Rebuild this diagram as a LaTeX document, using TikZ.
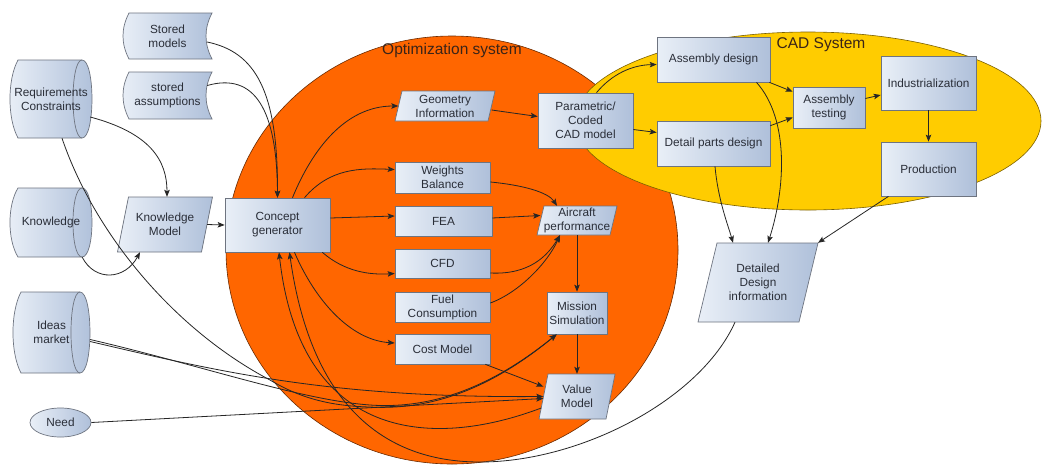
\documentclass[tikz,border=0pt]{standalone}
\usepackage{fontspec}
\setmainfont{Liberation Sans}
\usetikzlibrary{arrows.meta,shapes.geometric}

\definecolor{boxL}{HTML}{E9EFF7}
\definecolor{boxR}{HTML}{AFC0DA}
\definecolor{boxline}{HTML}{6E7480}
\definecolor{txt}{HTML}{2A2E38}
\definecolor{optfill}{HTML}{FF6600}
\definecolor{optline}{HTML}{6A2A00}
\definecolor{optext}{HTML}{3A2418}
\definecolor{cadfill}{HTML}{FFCC00}
\definecolor{cadline}{HTML}{7A6000}
\definecolor{wire}{HTML}{262626}

\newcommand\dgmfont{\fontsize{11.8}{14}\selectfont}
\newcommand\dgmtitle{\fontsize{15.5}{18}\selectfont}

\tikzset{
  shapefill/.style={draw=boxline, line width=0.7pt, left color=boxL, right color=boxR},
  box/.style={shapefill, inner sep=0pt, align=center, font=\dgmfont, text=txt},
  lbl/.style={inner sep=0pt, align=center, font=\dgmfont, text=txt},
  flow/.style={draw=wire, line width=0.8pt, -{Stealth[length=7pt,width=5.5pt,inset=1.5pt]}},
}

% parallelogram: name, cx, cy, edge width, height, slant, text
\newcommand\mkpara[7]{%
  \path[shapefill] ({#2-#4/2+#6/2},{#3-#5/2}) -- ({#2+#4/2+#6/2},{#3-#5/2})
    -- ({#2+#4/2-#6/2},{#3+#5/2}) -- ({#2-#4/2-#6/2},{#3+#5/2}) -- cycle;
  \node[lbl, minimum width=#4pt, minimum height=#5pt] (#1) at (#2,#3) {#7};}

% stored data: name, left, top, right, bottom, text
\newcommand\mkstored[6]{%
  \path[shapefill] ({#2+6},#3) -- (#4,#3)
    .. controls ({#4-8},{(2*#3+#5)/3}) and ({#4-8},{(#3+2*#5)/3}) .. (#4,#5)
    -- ({#2+6},#5)
    .. controls ({#2-2},{(#3+2*#5)/3}) and ({#2-2},{(2*#3+#5)/3}) .. ({#2+6},#3) -- cycle;
  \node[lbl, minimum width={#4-#2}, minimum height={#5-#3}] (#1) at ({(#2+#4)/2},{(#3+#5)/2}) {#6};}

% direct access storage: name, left, top, right, bottom, text
\newcommand\mkdisk[6]{%
  \path[shapefill] ({#2+8},#3) -- ({#4-10},#3)
    .. controls ({#4+3.3},#3) and ({#4+3.3},#5) .. ({#4-10},#5)
    -- ({#2+8},#5)
    .. controls ({#2-2.7},{(#3+3*#5)/4}) and ({#2-2.7},{(3*#3+#5)/4}) .. ({#2+8},#3) -- cycle;
  \draw[boxline, line width=0.7pt] ({#4-10},#3) .. controls ({#4-22},#3) and ({#4-22},#5) .. ({#4-10},#5);
  \node[lbl, minimum width={#4-#2}, minimum height={#5-#3}] (#1) at ({(#2+#4)/2},{(#3+#5)/2}) {#6};}

\begin{document}
\begin{tikzpicture}[x=1pt,y=-1pt]
\useasboundingbox (0,0) rectangle (1043,464);
\fill[white] (0,0) rectangle (1043,464);

% the two systems
\draw[fill=optfill, draw=optline, line width=0.6pt] (452,250) ellipse [x radius=226pt, y radius=214pt];
\draw[fill=cadfill, draw=cadline, line width=0.6pt] (808,121) ellipse [x radius=233pt, y radius=89pt];
\node[font=\dgmtitle, text=optext, inner sep=0pt] (opttitle) at (452,50) {Optimization system};
\node[font=\dgmtitle, text=optext, inner sep=0pt] (cadtitle) at (821,45) {CAD System};

% inputs on the left
\mkstored{sm}{123}{13}{212}{59}{Stored\\models}
\mkstored{sa}{123}{72}{212}{119}{stored\\assumptions}
\mkdisk{req}{10}{60}{92}{138}{Requirements\\Constraints}
\mkdisk{know}{10}{188}{92}{257}{Knowledge}
\mkdisk{ideas}{13}{292}{90}{373}{Ideas\\market}
\node[box, ellipse, minimum width=61pt, minimum height=29pt] (need) at (60.5,422.5) {Need};
\mkpara{km}{165}{224.5}{84}{55}{11}{Knowledge\\Model}
\node[box, minimum width=105pt, minimum height=54pt] (cg) at (277.5,225) {Concept\\generator};

% optimization system
\mkpara{geo}{445}{106}{93}{30}{7}{Geometry\\Information}
\node[box, minimum width=95pt, minimum height=31pt] (wb) at (442.5,177.5) {Weights\\Balance};
\node[box, minimum width=97pt, minimum height=30pt] (fea) at (443.5,221) {FEA};
\node[box, minimum width=95pt, minimum height=29pt] (cfd) at (442.5,263.5) {CFD};
\node[box, minimum width=95pt, minimum height=30pt] (fuel) at (442.5,307) {Fuel\\Consumption};
\node[box, minimum width=95pt, minimum height=30pt] (cost) at (442.5,349) {Cost Model};
\node[box, minimum width=95pt, minimum height=55pt] (par) at (585.5,120.5) {Parametric/\\Coded\\CAD model};
\mkpara{ap}{577}{220.5}{73}{29}{7}{Aircraft\\performance}
\node[box, minimum width=60pt, minimum height=42pt] (ms) at (577,313) {Mission\\Simulation};
\mkpara{vm}{577}{396.5}{67}{45}{9}{Value\\Model}

% CAD system
\node[box, minimum width=113pt, minimum height=45pt] (ad) at (713.5,59.5) {Assembly design};
\node[box, minimum width=113pt, minimum height=45pt] (dp) at (713.5,143.5) {Detail parts design};
\node[box, minimum width=72pt, minimum height=41pt] (at) at (829,107.5) {Assembly\\testing};
\node[box, minimum width=95pt, minimum height=54pt] (ind) at (928.5,83) {Industrialization};
\node[box, minimum width=95pt, minimum height=54pt] (prod) at (928.5,169) {Production};
\mkpara{ddi}{758}{282.5}{101}{79}{19}{Detailed\\Design\\information}

% knowledge feeding the concept generator
\draw[flow] ([xshift=-5pt,yshift=-6pt]sm.east) .. controls (255,52) and (278,90) .. (cg.north);
\draw[flow] ([xshift=-5pt,yshift=10pt]sa.east) .. controls (255,72) and (277,110) .. (cg.north);
\draw[flow] ([xshift=-2pt,yshift=-18pt]req.east) .. controls (150,133) and (167,160) .. ([xshift=2pt]km.north);
\draw[flow] ([xshift=-10pt]know.south east) .. controls (95,282) and (125,280) .. ([xshift=-25pt]km.south);
\draw[flow] (km.east) -- (cg.west);

% concept generator to the analyses
\draw[flow] ([xshift=15pt]cg.north) .. controls (312,150) and (345,106) .. (geo.west);
\draw[flow] ([xshift=27pt]cg.north) .. controls (330,168) and (360,168) .. ([yshift=8pt]wb.west);
\draw[flow] ([yshift=7pt]cg.east) -- ([yshift=5pt]fea.west);
\draw[flow] ([xshift=-8pt]cg.south east) .. controls (345,272) and (370,275) .. ([yshift=-10pt]cfd.west);
\draw[flow] ([xshift=17pt]cg.south) .. controls (315,300) and (350,340) .. ([yshift=6pt]cost.west);

% geometry into CAD
\draw[flow] ([yshift=-4pt]geo.east) -- ([yshift=4pt]par.west);
\draw[flow] ([xshift=11pt]par.north) .. controls (612,74) and (632,65) .. ([yshift=-5pt]ad.west);
\draw[flow] ([yshift=-9pt]par.east) -- ([yshift=11pt]dp.west);
\draw[flow] ([xshift=-1pt]ad.south east) -- ([yshift=-5pt]at.north west);
\draw[flow] ([yshift=-5pt]dp.north east) -- ([yshift=-10pt]at.west);
\draw[flow] ([yshift=9pt]at.east) -- ([yshift=-12pt]ind.west);
\draw[flow] (ind.south) -- (prod.north);
\draw[flow] ([xshift=43pt]ad.south) .. controls (790,120) and (785,190) .. ([xshift=10pt]ddi.north);
\draw[flow] ([xshift=1.5pt]dp.south) .. controls (718,200) and (728,225) .. ([xshift=-25pt]ddi.north);
\draw[flow] ([xshift=-40pt]prod.south) -- ([xshift=60pt]ddi.north);

% analyses into performance and value
\draw[flow] ([yshift=-4.5pt]wb.east) .. controls (522,185) and (548,192) .. ([xshift=-20pt]ap.north);
\draw[flow] ([yshift=3pt]fea.east) -- ([yshift=5pt]ap.west);
\draw[flow] ([yshift=-9.5pt]cfd.east) .. controls (530,275) and (548,255) .. ([xshift=-17pt]ap.south);
\draw[flow] ([yshift=4pt]fuel.east) .. controls (520,292) and (548,262) .. ([xshift=-17pt]ap.south);
\draw[flow] (ap.south) -- (ms.north);
\draw[flow] (ms.south) -- (vm.north);
\draw[flow] ([xshift=-5pt]cost.south east) -- ([yshift=10pt]vm.west);

% market, requirements and need
\draw[flow] ([yshift=-7pt]ideas.east) .. controls (200,365) and (300,400) .. (370,405)
  .. controls (440,410) and (500,380) .. ([xshift=10pt]ms.south west);
\draw[flow] ([xshift=11pt]req.south) .. controls (95,235) and (175,330) .. (270,380)
  .. controls (300,398) and (330,406) .. (370,407) .. controls (440,411) and (500,381) .. ([xshift=10pt]ms.south west);
\draw[flow] ([yshift=-9pt]ideas.east) .. controls (220,372) and (330,398) .. (vm.west);
\draw[flow] (need.east) -- ([yshift=-2pt]vm.west);

% feedback loops to the concept generator
\draw[flow] ([xshift=-2pt,yshift=-11.5pt]vm.west) .. controls (430,450) and (300,440) .. ([xshift=1.5pt]cg.south);
\draw[flow] ([xshift=-23pt]ddi.south) .. controls (700,400) and (580,462) .. (480,462)
  .. controls (380,462) and (310,400) .. ([xshift=12pt]cg.south);
\end{tikzpicture}
\end{document}
